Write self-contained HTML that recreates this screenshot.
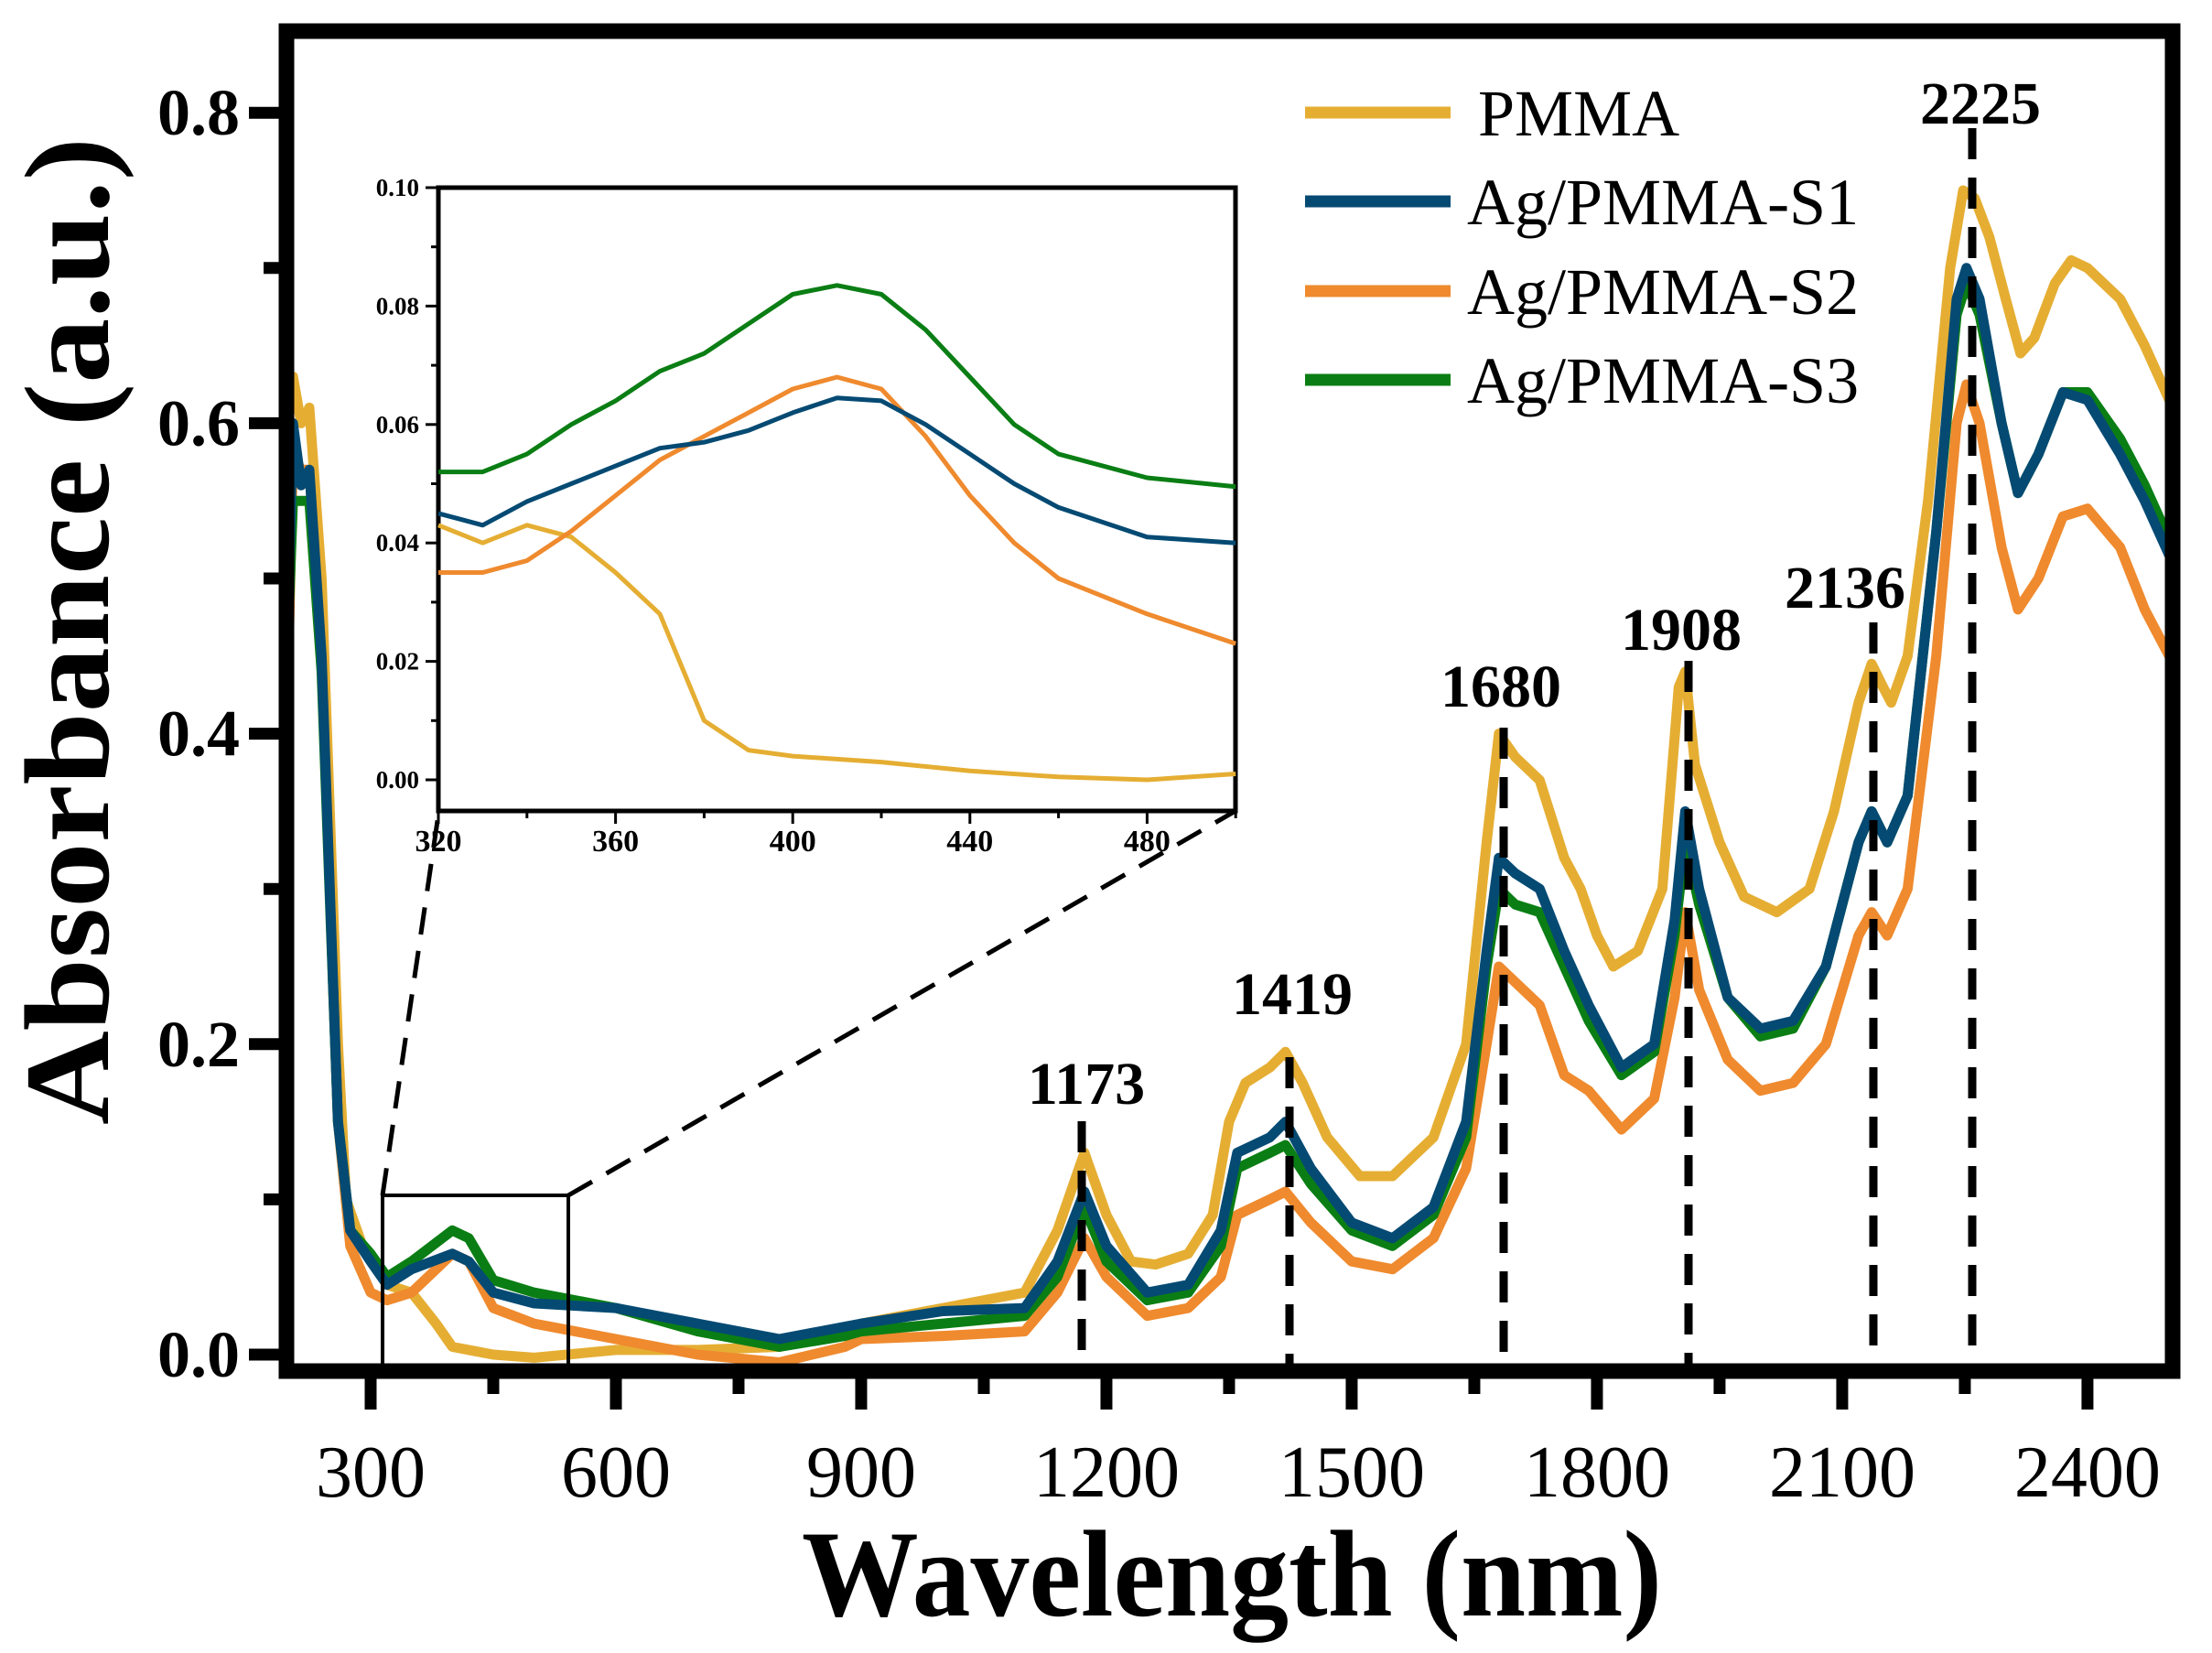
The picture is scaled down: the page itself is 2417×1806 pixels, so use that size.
<!DOCTYPE html>
<html><head><meta charset="utf-8"><style>
html,body{margin:0;padding:0;background:#fff;}
svg{display:block;}
text{font-family:"Liberation Serif",serif;fill:#000;}
</style></head><body>
<svg id="s" width="2417" height="1806" viewBox="0 0 2417 1806" xmlns="http://www.w3.org/2000/svg">
<g id="curves"></g>
<g id="inset"></g>
<g id="axes"></g>
</svg>
<script>
const NS="http://www.w3.org/2000/svg";
function el(p,t,a,txt){const e=document.createElementNS(NS,t);for(const k in a)e.setAttribute(k,a[k]);if(txt!==undefined)e.textContent=txt;p.appendChild(e);return e;}
const X=w=>405+0.8933*(w-300), Y=a=>1480-1696*a;
const C={p:"#E5AE33",s1:"#054A73",s2:"#EF8A2E",s3:"#0A7E14"};
function P(s){const v=s.trim().split(/[\s,]+/).map(Number);const r=[];for(let i=0;i<v.length;i+=2)r.push([v[i],v[i+1]]);return r;}
const D={
p:P("200 0.62 205 0.63 215 0.6 225 0.61 240 0.5 260 0.2 270 0.1 290 0.07 320 0.045 350 0.04 380 0.02 400 0.005 450 0.0 500 -0.002 600 0.003 700 0.003 800 0.005 880 0.015 900 0.02 1000 0.03 1050 0.035 1100 0.04 1140 0.08 1173 0.13 1200 0.09 1230 0.06 1260 0.058 1300 0.065 1330 0.09 1350 0.15 1370 0.175 1400 0.185 1419 0.195 1440 0.175 1470 0.14 1510 0.115 1550 0.115 1600 0.14 1640 0.2 1665 0.33 1680 0.4 1700 0.385 1730 0.37 1760 0.32 1780 0.3 1800 0.27 1820 0.25 1850 0.26 1880 0.3 1900 0.43 1908 0.44 1920 0.38 1950 0.33 1980 0.295 2020 0.285 2060 0.3 2090 0.35 2120 0.42 2136 0.445 2150 0.43 2160 0.42 2180 0.45 2205 0.55 2232 0.7 2248 0.75 2262 0.745 2280 0.72 2300 0.68 2318 0.645 2335 0.655 2360 0.69 2380 0.705 2400 0.7 2440 0.68 2470 0.65 2500 0.615"),
s2:P("200 0.46 205 0.58 215 0.57 225 0.57 240 0.45 260 0.15 275 0.07 300 0.04 320 0.035 350 0.04 400 0.065 420 0.06 450 0.03 500 0.02 600 0.01 700 0.0 800 -0.005 880 0.005 900 0.01 1000 0.012 1100 0.015 1140 0.04 1173 0.075 1200 0.05 1250 0.025 1300 0.03 1340 0.05 1360 0.09 1400 0.1 1419 0.105 1450 0.085 1500 0.06 1550 0.055 1600 0.075 1640 0.12 1665 0.2 1680 0.25 1700 0.24 1730 0.225 1760 0.18 1790 0.17 1830 0.145 1870 0.165 1895 0.23 1908 0.285 1925 0.235 1960 0.19 2000 0.17 2040 0.175 2080 0.2 2120 0.27 2136 0.285 2155 0.27 2180 0.3 2215 0.45 2240 0.6 2252 0.625 2268 0.6 2295 0.52 2315 0.48 2340 0.5 2370 0.54 2400 0.545 2440 0.52 2470 0.48 2500 0.45"),
s3:P("200 0.48 205 0.55 215 0.55 225 0.55 240 0.44 260 0.15 275 0.08 300 0.065 320 0.05 350 0.06 400 0.08 420 0.075 450 0.048 500 0.04 600 0.03 700 0.015 800 0.005 880 0.012 900 0.015 1000 0.02 1100 0.025 1140 0.05 1173 0.095 1200 0.06 1250 0.035 1300 0.04 1340 0.07 1360 0.12 1400 0.13 1419 0.135 1450 0.11 1500 0.08 1550 0.07 1600 0.09 1640 0.14 1665 0.25 1680 0.3 1700 0.29 1730 0.285 1760 0.25 1790 0.215 1830 0.18 1870 0.195 1895 0.27 1908 0.33 1925 0.29 1960 0.23 2000 0.205 2040 0.21 2080 0.25 2120 0.33 2136 0.35 2155 0.33 2180 0.36 2215 0.53 2240 0.67 2252 0.69 2268 0.67 2295 0.6 2315 0.555 2340 0.58 2370 0.62 2400 0.62 2440 0.59 2470 0.56 2500 0.525"),
s1:P("200 0.5 205 0.6 215 0.56 225 0.57 240 0.45 260 0.15 275 0.08 300 0.06 320 0.045 350 0.055 400 0.065 420 0.06 450 0.04 500 0.033 600 0.03 700 0.02 800 0.01 880 0.018 900 0.02 1000 0.028 1100 0.03 1140 0.06 1173 0.105 1200 0.07 1250 0.04 1300 0.045 1340 0.08 1360 0.13 1400 0.14 1419 0.15 1450 0.12 1500 0.085 1550 0.075 1600 0.095 1640 0.15 1665 0.26 1680 0.32 1700 0.31 1730 0.3 1760 0.26 1790 0.225 1830 0.185 1870 0.2 1895 0.28 1908 0.35 1925 0.3 1960 0.23 2000 0.21 2040 0.215 2080 0.25 2120 0.33 2136 0.35 2155 0.33 2180 0.36 2215 0.53 2240 0.68 2252 0.7 2268 0.68 2295 0.6 2315 0.555 2340 0.58 2370 0.62 2400 0.615 2440 0.58 2470 0.55 2500 0.515")};
const cg=document.getElementById('curves');
for(const k of ['p','s2','s3','s1']){
 el(cg,'polyline',{points:D[k].map(q=>X(q[0]).toFixed(1)+','+Y(q[1]).toFixed(1)).join(' '),fill:'none',stroke:C[k],'stroke-width':11,'stroke-linejoin':'round'});
}
const ig=document.getElementById('inset');
const IX=w=>479+4.84*(w-320), IY=a=>852-6470*a;
el(ig,'rect',{x:479,y:205,width:871,height:681,fill:'#fff',stroke:'#000','stroke-width':5});
const I={
p:P("320 0.043 330 0.04 340 0.043 350 0.041 360 0.035 370 0.028 380 0.01 390 0.005 400 0.004 420 0.003 440 0.0015 460 0.0005 480 0.0 500 0.001"),
s2:P("320 0.035 330 0.035 340 0.037 350 0.042 360 0.048 370 0.054 380 0.058 390 0.062 400 0.066 410 0.068 420 0.066 430 0.058 440 0.048 450 0.04 460 0.034 480 0.028 500 0.023"),
s1:P("320 0.045 330 0.043 340 0.047 350 0.05 360 0.053 370 0.056 380 0.057 390 0.059 400 0.062 410 0.0645 420 0.064 430 0.06 440 0.055 450 0.05 460 0.046 480 0.041 500 0.040"),
s3:P("320 0.052 330 0.052 340 0.055 350 0.06 360 0.064 370 0.069 380 0.072 390 0.077 400 0.082 410 0.0835 420 0.082 430 0.076 440 0.068 450 0.06 460 0.055 480 0.051 500 0.0495")};
for(const k of ['p','s2','s1','s3']){
 el(ig,'polyline',{points:I[k].map(q=>IX(q[0]).toFixed(1)+','+IY(q[1]).toFixed(1)).join(' '),fill:'none',stroke:C[k],'stroke-width':5,'stroke-linejoin':'round'});
}
for(let v=0;v<=0.1001;v+=0.01){const y=IY(v);const maj=Math.round(v*100)%2==0;
 el(ig,'line',{x1:479,x2:maj?465:471,y1:y,y2:y,stroke:'#000','stroke-width':3});
 if(maj)el(ig,'text',{x:458,y:y+9,'text-anchor':'end','font-size':27,'font-weight':'bold'},v.toFixed(2));}
for(let w=320;w<=500;w+=20){const x=IX(w);const maj=(w-320)%40==0;
 el(ig,'line',{x1:x,x2:x,y1:886,y2:maj?900:894,stroke:'#000','stroke-width':3});
 if(maj)el(ig,'text',{x:x,y:930,'text-anchor':'middle','font-size':34,'font-weight':'bold'},w);}
const ag=document.getElementById('axes');
el(ag,'rect',{x:313,y:34,width:2061,height:1464,fill:'none',stroke:'#000','stroke-width':17});
for(let v=0;v<=0.8001;v+=0.1){const y=Y(v);const maj=Math.round(v*10)%2==0;
 el(ag,'line',{x1:305,x2:maj?272:288,y1:y,y2:y,stroke:'#000','stroke-width':13});
 if(maj)el(ag,'text',{x:262,y:y+24,'text-anchor':'end','font-size':72,'font-weight':'bold'},v.toFixed(1));}
for(let w=300;w<=2400;w+=150){const x=X(w);const maj=w%300==0;
 el(ag,'line',{x1:x,x2:x,y1:1505,y2:maj?1540:1523,stroke:'#000','stroke-width':13});
 if(maj)el(ag,'text',{x:x,y:1635,'text-anchor':'middle','font-size':80},w);}
el(ag,'text',{x:876,y:1765,'font-size':135,'font-weight':'bold',textLength:940,lengthAdjust:'spacingAndGlyphs'},'Wavelength (nm)');
el(ag,'text',{x:0,y:0,transform:'translate(118,1229) rotate(-90)','font-size':132,'font-weight':'bold',textLength:1079,lengthAdjust:'spacingAndGlyphs'},'Absorbance (a.u.)');
el(ag,'rect',{x:418,y:1306,width:203,height:186,fill:'none',stroke:'#000','stroke-width':4});
el(ag,'line',{x1:418,y1:1306,x2:479,y2:890,stroke:'#000','stroke-width':5,'stroke-dasharray':'30,18'});
el(ag,'line',{x1:621,y1:1306,x2:1350,y2:886,stroke:'#000','stroke-width':5,'stroke-dasharray':'30,18'});
const pk=[[1182,1225,'1173',1187,1206],[1409,1155,'1419',1412,1108],[1643,795,'1680',1640,772],[1845,722,'1908',1837,710],[2047,680,'2136',2016,664],[2155,140,'2225',2164,135]];
for(const q of pk){
 el(ag,'line',{x1:q[0],x2:q[0],y1:q[1],y2:1490,stroke:'#000','stroke-width':9,'stroke-dasharray':'34,20'});
 el(ag,'text',{x:q[3],y:q[4],'text-anchor':'middle','font-size':66,'font-weight':'bold'},q[2]);}
const lg=[['p','PMMA',123,1615],['s1','Ag/PMMA-S1',220,1603],['s2','Ag/PMMA-S2',318,1603],['s3','Ag/PMMA-S3',415,1603]];
for(const q of lg){
 el(ag,'line',{x1:1426,x2:1585,y1:q[2],y2:q[2],stroke:C[q[0]],'stroke-width':13});
 el(ag,'text',{x:q[3],y:q[2]+25,'font-size':72},q[1]);}
</script>
</body></html>
